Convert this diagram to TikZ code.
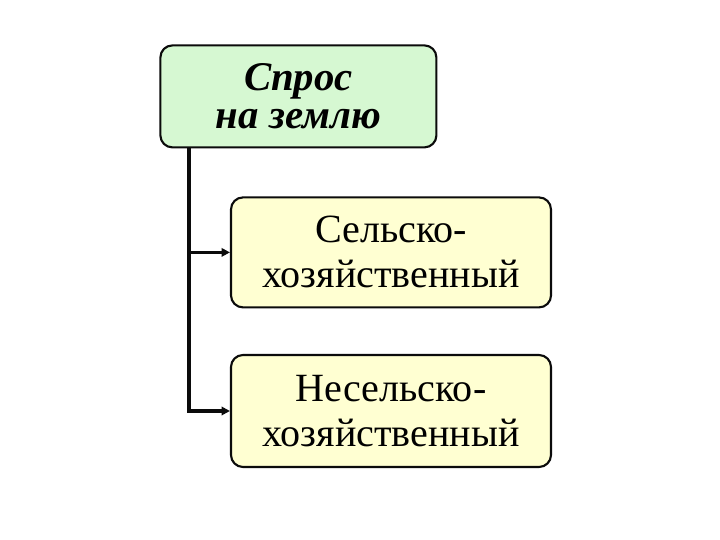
\documentclass[tikz,border=0pt]{standalone}
\usepackage{fontspec}
\setmainfont{Liberation Serif}
\usepackage{xcolor}
\usetikzlibrary{arrows.meta,positioning}
\definecolor{green1}{HTML}{D6F8D2}
\definecolor{yellow1}{HTML}{FFFFD2}
\definecolor{ink}{HTML}{0B0B0B}

\tikzset{
  box/.style={draw=ink,line width=1.5pt,rounded corners=0.3cm,align=center,inner sep=0pt},
  link/.style={ink,line width=2.4pt,-{Triangle[length=6pt,width=6pt]}}
}

\begin{document}
\begin{tikzpicture}[x=1cm,y=1cm]
  \useasboundingbox (0,0) rectangle (18,13.5);
  \node[box,fill=green1,minimum width=6.9cm,minimum height=2.55cm,
        font=\fontsize{29}{27}\selectfont\bfseries\itshape] (spros) at (7.46,11.09)
       {Спрос\\на землю};
  \node[box,fill=yellow1,minimum width=8cm,minimum height=2.75cm,
        font=\fontsize{28.5}{32}\selectfont] (agri) at (9.775,7.19)
       {Сельско-\\хозяйственный};
  \node[box,fill=yellow1,minimum width=8cm,minimum height=2.8cm,
        font=\fontsize{28.5}{32}\selectfont] (nonagri) at (9.775,3.225)
       {Несельско-\\хозяйственный};
  \coordinate (trunk) at (4.725,9.8);
  \draw[link] (trunk) |- (agri.west);
  \draw[link] (trunk) |- (nonagri.west);
\end{tikzpicture}
\end{document}
